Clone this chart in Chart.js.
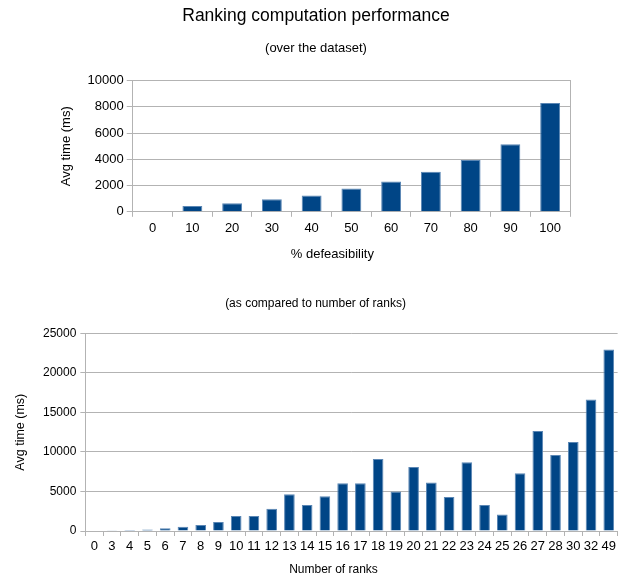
<!DOCTYPE html>
<html>
<head>
<meta charset="utf-8">
<script src="https://cdn.jsdelivr.net/npm/chart.js@4"></script>
<style>
body{margin:0;background:#fff;}
#top{position:absolute;left:0;top:0;width:619px;height:264px;}
#bottom{position:absolute;left:0;top:284px;width:619px;height:293px;}
</style>
</head>
<body>
<div id="top"><canvas id="defChart"></canvas></div>
<div id="bottom"><canvas id="rankChart"></canvas></div>
<script>
const defLabels = ['0','10','20','30','40','50','60','70','80','90','100'];
const defTimes = [0,450,650,950,1250,1780,2300,3050,3950,5150,8300];

const rankLabels = ['0','3','4','5','6','7','8','9','10','11','12','13','14','15','16','17','18','19','20','21','22','23','24','25','26','27','28','30','32','49'];
const rankTimes = [0,100,120,200,350,550,750,1150,1900,1900,2800,4650,3300,4400,6050,6050,9100,5000,8100,6150,4300,8700,3300,2100,7300,12650,9600,11250,16650,22950];

Chart.defaults.font.family = "'Liberation Sans', Arial, sans-serif";
Chart.defaults.color = '#000';

const barBlue = '#004586';
const gridGrey = '#b3b3b3';

// x axis title sits a bit left of the plot centre in the original
const xTitleShift = {
    id:'xTitleShift',
    afterDraw(chart, args, opts){
        const s = chart.scales.x;
        const t = s.options.title;
        const f = Chart.helpers.toFont(t.font);
        const ctx = chart.ctx;
        ctx.save();
        ctx.font = f.string;
        ctx.fillStyle = '#000';
        ctx.textAlign = 'center';
        ctx.textBaseline = 'middle';
        ctx.fillText(t.text, (s.left + s.right) / 2 + opts.dx,
            s.bottom - t.padding.bottom - f.lineHeight / 2);
        ctx.restore();
    }
};

function axes(maxY, step, yFont){
    return {
        x:{
            grid:{
                offset:true,
                drawOnChartArea:false,
                drawTicks:true,
                tickLength:5,
                color:gridGrey
            },
            border:{color:gridGrey},
            ticks:{font:{size:13},padding:4,maxRotation:0,autoSkip:false}
        },
        y:{
            min:0,
            max:maxY,
            grid:{color:gridGrey,tickLength:6},
            border:{color:gridGrey},
            ticks:{stepSize:step,font:{size:yFont},padding:3,callback:v => String(v)}
        }
    };
}

const defCtx =
document.getElementById("defChart");

const rankCtx =
document.getElementById("rankChart");

const defOpts = axes(10000,2000,13);
defOpts.x.title = {display:true,text:'% defeasibility',color:'rgba(0,0,0,0)',font:{size:13},padding:{top:6,bottom:2}};
defOpts.y.title = {display:true,text:'Avg time (ms)',font:{size:13},padding:{top:46,bottom:10}};
// empty axis on the right keeps the plot narrow and draws the right border
defOpts.yRight = {
    position:'right',
    display:true,
    grid:{display:false},
    border:{display:true,color:gridGrey},
    ticks:{display:false},
    afterFit:s => { s.width = 49; }
};

const defChart =
new Chart(defCtx,{
    type:'bar',
    data:{
        labels:defLabels,
        datasets:[{
            data:defTimes,
            backgroundColor:barBlue,
            borderColor:'#5a86b4',
            borderWidth:1,
            barPercentage:0.5,
            categoryPercentage:1
        }]
    },
    options:{
        responsive:true,
        maintainAspectRatio:false,
        animation:false,
        layout:{padding:{left:13,right:0,top:6,bottom:0}},
        plugins:{
            legend:{display:false},
            tooltip:{enabled:false},
            xTitleShift:{dx:-19},
            title:{
                display:true,
                text:'Ranking computation performance',
                font:{size:17.5,weight:'normal'},
                padding:{top:0,bottom:14}
            },
            subtitle:{
                display:true,
                text:'(over the dataset)',
                font:{size:13},
                padding:{bottom:24}
            }
        },
        scales:defOpts
    },
    plugins:[xTitleShift]
});

const rankOpts = axes(25000,5000,12);
rankOpts.y.grid.tickLength = 5;
rankOpts.y.ticks.padding = 4;
rankOpts.x.ticks.padding = 3;
rankOpts.x.title = {display:true,text:'Number of ranks',color:'rgba(0,0,0,0)',font:{size:12},padding:{top:5,bottom:0}};
rankOpts.y.title = {display:true,text:'Avg time (ms)',font:{size:12.5},padding:{top:0,bottom:11}};

const rankChart =
new Chart(rankCtx,{
    type:'bar',
    data:{
        labels:rankLabels,
        datasets:[{
            data:rankTimes,
            backgroundColor:barBlue,
            borderColor:'#5a86b4',
            borderWidth:1,
            barPercentage:0.6,
            categoryPercentage:1
        }]
    },
    options:{
        responsive:true,
        maintainAspectRatio:false,
        animation:false,
        layout:{padding:{left:13,right:1,top:12,bottom:0}},
        plugins:{
            legend:{display:false},
            tooltip:{enabled:false},
            xTitleShift:{dx:-18},
            title:{
                display:true,
                text:'(as compared to number of ranks)',
                font:{size:12,weight:'normal'},
                padding:{top:0,bottom:23}
            }
        },
        scales:rankOpts
    },
    plugins:[xTitleShift]
});
</script>
</body>
</html>
